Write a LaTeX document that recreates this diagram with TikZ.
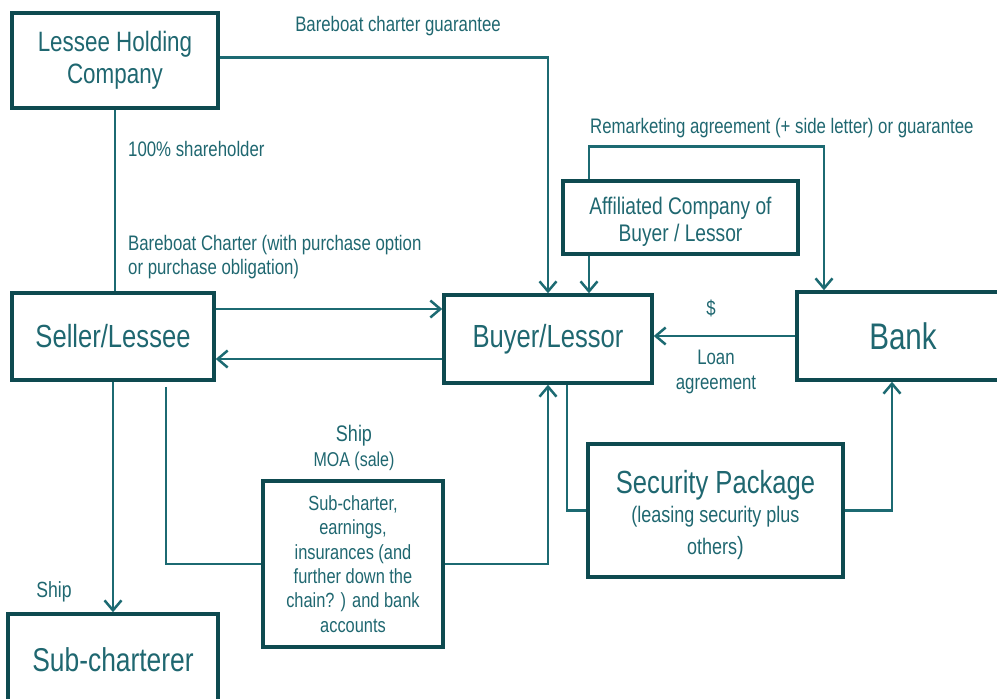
\documentclass[tikz,border=0pt]{standalone}
\usepackage{fontspec}
\setmainfont{Liberation Sans}[FakeStretch=0.8]
\usepackage{tikz}
\usetikzlibrary{arrows.meta}

\definecolor{boxcol}{HTML}{0E4A50}
\definecolor{linecol}{HTML}{1C6A72}
\definecolor{textcol}{HTML}{1F6770}

\tikzset{
    party/.style={draw=boxcol, line width=3.5pt, inner sep=0pt, align=center, text=textcol, font=\fontsize{32}{36}\selectfont},
    note/.style={text=textcol, inner sep=0pt, align=left, font=\fontsize{21}{24.5}\selectfont},
    link/.style={draw=linecol, line width=2.5pt},
    flow/.style={link, -{Straight Barb[length=10pt,width=17pt]}}
}

\begin{document}
\begin{tikzpicture}[x=1pt, y=-1pt]

    \useasboundingbox (0,0) rectangle (997,699);

    \node[party, minimum width=206pt, minimum height=95pt, font=\fontsize{28}{32}\selectfont] (lessee) at (115,60.5) {Lessee Holding\\Company};
    \node[party, minimum width=202pt, minimum height=87pt] (seller) at (113,336.5) {Seller/Lessee};
    \node[party, minimum width=208pt, minimum height=88pt] (buyer) at (548,339) {Buyer/Lessor};
    \node[party, minimum width=212pt, minimum height=88pt, font=\fontsize{37}{40}\selectfont] (bank) at (903,336) {Bank};
    \node[party, minimum width=235pt, minimum height=73pt, font=\fontsize{24}{27}\selectfont] (affil) at (680.5,217.5) {\rule{0pt}{26pt}Affiliated Company of\\Buyer / Lessor};
    \node[party, minimum width=255pt, minimum height=133pt] (security) at (715.5,510.5)
        {\rule{0pt}{33pt}Security Package\\[-7pt]\fontsize{22.5}{31}\selectfont (leasing security plus\\[-4pt]\fontsize{22.5}{31}\selectfont others\fontsize{25}{31}\selectfont)};
    \node[party, minimum width=180pt, minimum height=166pt, font=\fontsize{20.5}{24.3}\selectfont] (subbox) at (353,564)
        {Sub-charter,\\earnings,\\insurances (and\\further down the\\chain? ) and bank\\accounts};
    \node[party, minimum width=210pt, minimum height=92pt, font=\fontsize{33}{36}\selectfont] (subch) at (113,660) {Sub-charterer};

    \draw[flow] ([yshift=3pt]lessee.east) -| (buyer.north);
    \node[note] (guarantee) at (398,26) {Bareboat charter guarantee};

    \draw[link] (lessee.south) -- (lessee.south |- seller.north);
    \node[note, anchor=west] (share) at (128,149) {100\% shareholder};
    \node[note, anchor=west] (charter) at (128,257) {Bareboat Charter (with purchase option\\or purchase obligation)};

    \draw[flow] ([yshift=27.5pt]seller.east) -- ([yshift=27.5pt]seller.east -| buyer.west);
    \draw[flow] ([yshift=-20pt]buyer.west) -- ([yshift=-20pt]buyer.west -| seller.east);

    \draw[flow] (seller.south) -- (subch.north);
    \node[note, font=\fontsize{22}{26}\selectfont] (ship1) at (54,592) {Ship};

    \draw[link] ([xshift=53pt, yshift=-5pt]seller.south) |- (subbox.west);
    \draw[flow] (subbox.east) -| (buyer.south);
    \node[note, align=center, font=\fontsize{22.5}{25}\selectfont] (moa) at (354,448) {Ship\\\fontsize{20}{24}\selectfont MOA (sale)};

    \draw[link] ([xshift=19pt]buyer.south) |- (security.west);
    \draw[flow] (security.east) -| ([xshift=-11pt]bank.south);

    \draw[flow] (bank.west) -- (bank.west -| buyer.east);
    \node[note] (dollar) at (711,308) {\$};
    \node[note, align=center] (loan) at (716,372) {Loan\\agreement};

    \draw[flow] ([xshift=-91.5pt]affil.south) -- ([xshift=-91.5pt]affil.south |- buyer.north);
    \draw[flow] ([xshift=-91.5pt]affil.north) -- ++(0,-33) -| ([xshift=-79pt]bank.north);
    \node[note, anchor=west] (remarket) at (590,128) {Remarketing agreement (+ side letter) or guarantee};

\end{tikzpicture}
\end{document}
